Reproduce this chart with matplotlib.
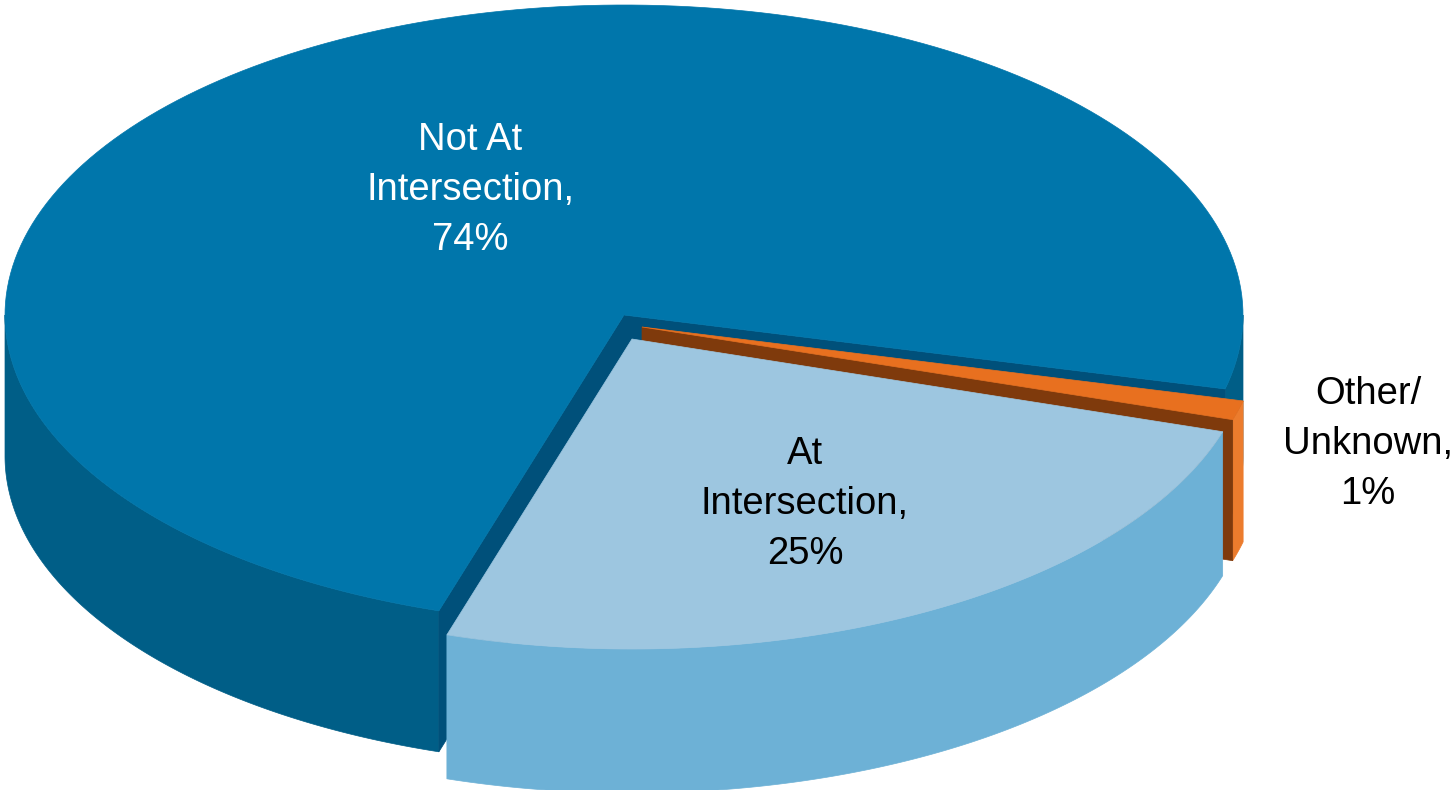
import numpy as np
import matplotlib
matplotlib.use('Agg')
import matplotlib.pyplot as plt
from matplotlib.patches import Polygon

labels = ['Not At\nIntersection,\n74%', 'At\nIntersection,\n25%', 'Other/\nUnknown,\n1%']
values = [74, 25, 1]

top_colors = ['#0076ab', '#9dc6e0', '#e8701f']
side_colors = ['#005e87', '#6db1d6', '#ec7c2d']
face_colors = ['#00507a', '#6db1d6', '#7f3a0c']
text_colors = ['white', 'black', 'black']
text_pos = [(470, 190), (805, 504), (1368, 444)]

# pie drawn by hand, matplotlib pie has no 3d look
rx = 619
ry = 310
depth = 141
start = -13.8
apex = [(624, 315), (632, 339), (642, 327)]

plt.rcParams['font.family'] = ['Liberation Sans', 'DejaVu Sans']
fig = plt.figure(figsize=(14.55, 7.9), dpi=100)
ax = fig.add_axes([0, 0, 1, 1])
ax.set_xlim(0, 1455)
ax.set_ylim(790, 0)
ax.axis('off')


def rim(c, t1, t2, d=0):
    t = np.radians(np.linspace(t1, t2, 200))
    return np.column_stack([c[0] + rx * np.cos(t), c[1] - ry * np.sin(t) + d])


def side(c, t1, t2, color, d=depth):
    pts = np.vstack([rim(c, t1, t2), rim(c, t2, t1, d)])
    ax.add_patch(Polygon(pts, closed=True, fc=color, ec=color, lw=0.5))


def cut(c, t, color, d=depth):
    p = rim(c, t, t)[0]
    pts = [c, p, (p[0], p[1] + d), (c[0], c[1] + d)]
    ax.add_patch(Polygon(pts, closed=True, fc=color, ec=color, lw=0.5))


def top(c, t1, t2, color):
    pts = np.vstack([[c], rim(c, t1, t2)])
    ax.add_patch(Polygon(pts, closed=True, fc=color, ec=color, lw=0.5))


angles = start + np.cumsum([0] + values) * 3.6

# Not At Intersection
a1, a2 = angles[0], angles[1]
side(apex[0], 180, a2, side_colors[0])
side(apex[0], a1, 0, side_colors[0])
cut(apex[0], a1, face_colors[0])
cut(apex[0], a2, face_colors[0])
top(apex[0], a1, a2, top_colors[0])

# Other/Unknown goes before the light slice, which hides most of its cut
a1, a2 = angles[2], angles[3]
side(apex[2], a1, a2, side_colors[2])
cut(apex[2], a1, face_colors[2])
top(apex[2], a1, a2, top_colors[2])

# At Intersection
a1, a2 = angles[1], angles[2]
side(apex[1], a1, a2, side_colors[1], d=144)
top(apex[1], a1, a2, top_colors[1])

for lab, pos, col in zip(labels, text_pos, text_colors):
    ax.text(pos[0], pos[1], lab, color=col, fontsize=27.5, ha='center', va='center',
            linespacing=1.5)

fig.savefig('out.png', dpi=100)
